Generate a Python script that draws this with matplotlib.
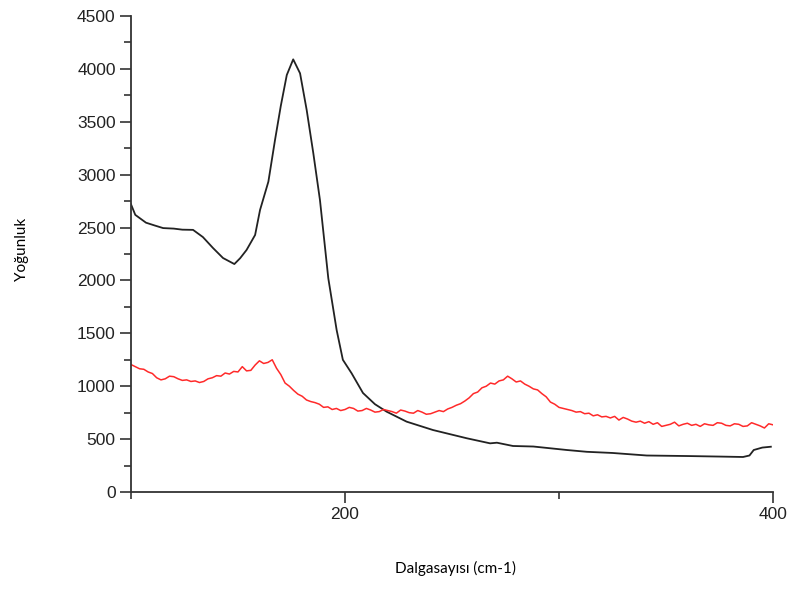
import matplotlib.pyplot as plt
from matplotlib.ticker import MultipleLocator

plt.rcParams["font.family"] = ["Liberation Sans", "DejaVu Sans"]

# black spectrum
x_black = [100, 102, 107, 111, 115, 120, 124, 129, 133.6, 138.3, 143, 148.3, 151, 154,
           158, 160.3, 164.2, 167.3, 170, 172.8, 175.8, 179, 182.1, 185.2, 188.3, 192.2,
           196.1, 199, 203.1, 208.4, 214, 219.5, 228.8, 241.1, 256.9, 267.8, 271, 278.5,
           288, 303.7, 313, 325, 341, 360, 375, 386, 389, 391, 395, 399]
y_black = [2720, 2620, 2546, 2520, 2495, 2490, 2480, 2478, 2410, 2307, 2212, 2155, 2210, 2288,
           2430, 2666, 2934, 3328, 3650, 3942, 4090, 3958, 3611, 3202, 2760, 2020,
           1531, 1250, 1122, 936, 830, 759, 665, 586, 508, 460, 466, 435,
           430, 397, 380, 369, 345, 340, 335, 331, 345, 397, 420, 428]

# red spectrum
x_red = [100, 102, 104, 106, 108, 110, 112, 114, 116, 118, 120, 122, 124, 126, 128, 130,
         132, 134, 136, 138, 140, 142, 144, 146, 148, 150, 152, 154, 156, 158, 160, 162,
         164, 166, 168, 170, 172, 174, 176, 178, 180, 182, 184, 186, 188, 190, 192, 194,
         196, 198, 200, 202, 204, 206, 208, 210, 212, 214, 216, 218, 220, 222, 224, 226,
         228, 230, 232, 234, 236, 238, 240, 242, 244, 246, 248, 250, 252, 254, 256, 258,
         260, 262, 264, 266, 268, 270, 272, 274, 276, 278, 280, 282, 284, 286, 288, 290,
         292, 294, 296, 298, 300, 302, 304, 306, 308, 310, 312, 314, 316, 318, 320, 322,
         324, 326, 328, 330, 332, 334, 336, 338, 340, 342, 344, 346, 348, 350, 352, 354,
         356, 358, 360, 362, 364, 366, 368, 370, 372, 374, 376, 378, 380, 382, 384, 386,
         388, 390, 392, 394, 396, 398, 400]
y_red = [1205, 1185, 1165, 1160, 1135, 1120, 1080, 1060, 1070, 1095, 1090, 1070, 1055, 1060, 1045, 1050,
         1035, 1045, 1070, 1080, 1100, 1095, 1125, 1115, 1140, 1135, 1185, 1145, 1150, 1200, 1240, 1215,
         1225, 1250, 1170, 1110, 1030, 1000, 960, 925, 905, 870, 855, 845, 830, 800, 805, 780,
         790, 770, 780, 800, 790, 765, 770, 790, 775, 755, 760, 780, 770, 760, 745, 775,
         765, 750, 745, 770, 755, 735, 740, 755, 770, 760, 785, 800, 820, 835, 860, 890,
         930, 945, 985, 1000, 1030, 1020, 1050, 1060, 1095, 1070, 1040, 1050, 1020, 1000, 975, 965,
         930, 900, 850, 830, 800, 790, 780, 770, 755, 760, 740, 745, 720, 730, 710, 715,
         700, 715, 680, 705, 690, 670, 660, 670, 650, 665, 640, 655, 620, 630, 640, 660,
         625, 640, 650, 630, 640, 620, 645, 635, 630, 655, 650, 630, 625, 645, 640, 620,
         625, 655, 640, 625, 605, 645, 635]

fig = plt.figure(figsize=(7.92, 5.9), dpi=100)
ax = fig.add_axes([0.1654, 0.1661, 0.8106, 0.8068])

ax.plot(x_black, y_black, color="#222222", linewidth=1.3)
ax.plot(x_red, y_red, color="#ff2a2a", linewidth=1.1)

ax.set_xlim(100, 400)
ax.set_ylim(0, 4500)
ax.xaxis.set_major_locator(MultipleLocator(200))
ax.xaxis.set_minor_locator(MultipleLocator(100))
ax.yaxis.set_major_locator(MultipleLocator(500))
ax.yaxis.set_minor_locator(MultipleLocator(250))

for s in ["top", "right"]:
    ax.spines[s].set_visible(False)
for s in ["left", "bottom"]:
    ax.spines[s].set_color("#333333")
    ax.spines[s].set_linewidth(1.3)

ax.tick_params(which="major", direction="out", length=8, width=1.2, color="#333333",
               labelsize=12.5, labelcolor="#222222", pad=3)
ax.tick_params(which="minor", direction="out", length=5, width=1.2, color="#333333")

fig.text(0.028, 0.577, "Yoğunluk", rotation=90, ha="center", va="center",
         fontsize=11, family="Lato")
fig.text(0.575, 0.037, "Dalgasayısı (cm-1)", ha="center", va="center",
         fontsize=11, family="Lato")

fig.savefig("out.png", dpi=100)
